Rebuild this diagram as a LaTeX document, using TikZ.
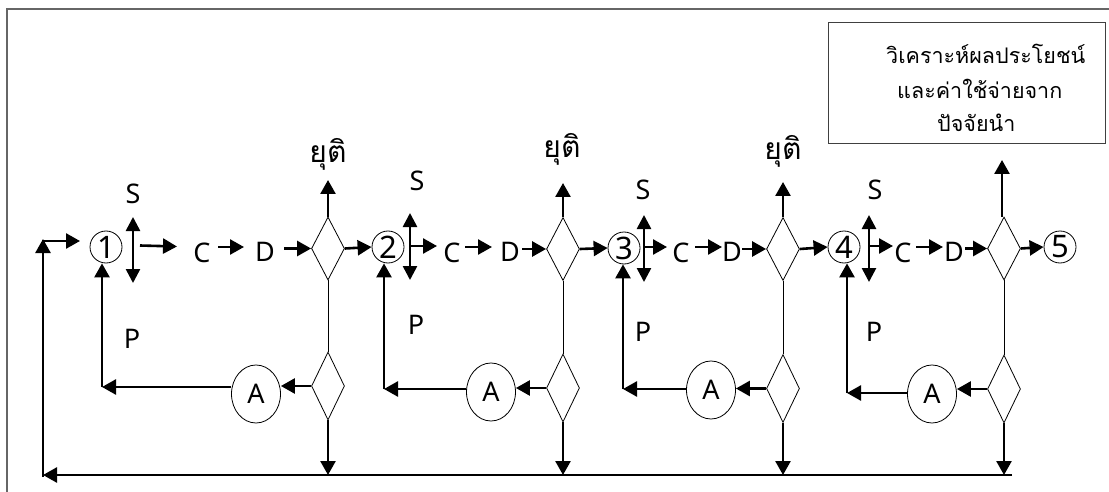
\documentclass[tikz,border=0pt]{standalone}
\usepackage{fontspec}
\setmainfont{Noto Sans}
\newfontfamily\thaifont[Script=Thai]{Loma}
\usetikzlibrary{shapes.geometric,arrows.meta}
\begin{document}
\begin{tikzpicture}[x=1pt,y=-1pt,
  conn/.style={line width=2.6pt,-{Triangle[length=14pt,width=15pt]}},
  dconn/.style={line width=2.6pt,{Triangle[length=14pt,width=14pt]}-{Triangle[length=14pt,width=14pt]}},
  fine/.style={line width=0.8pt},
  num/.style={circle,draw,line width=0.8pt,minimum size=32pt,inner sep=0pt,font=\fontsize{31}{31}\selectfont},
  dia/.style={diamond,draw,line width=0.8pt,minimum width=33pt,minimum height=63pt,inner sep=0pt},
  ldia/.style={diamond,draw,line width=0.8pt,minimum width=33pt,minimum height=68pt,inner sep=0pt},
  actn/.style={ellipse,draw,line width=0.8pt,minimum width=49pt,minimum height=58pt,inner sep=0pt,font=\fontsize{27}{27}\selectfont},
  lbl/.style={font=\fontsize{27}{27}\selectfont,inner sep=0pt},
  thai/.style={font=\thaifont\fontsize{30}{30}\selectfont,inner sep=0pt,anchor=base},
  boxt/.style={font=\thaifont\fontsize{21.5}{21.5}\selectfont,inner sep=0pt,anchor=base west},
]
\useasboundingbox (0,0) rectangle (1109,492);
\fill[white] (0,0) rectangle (1109,492);
% frame (cut at right and bottom)
\draw[line width=1.3pt,black!60] (7,492) -- (7,9) -- (1109,9);

% summary box
\node[draw,black!75,line width=1pt,minimum width=277pt,minimum height=121pt,inner sep=0pt] (box) at (966.5,83.5) {};
\node[boxt] (bx1) at (886,64) {วิเคราะห์ผลประโยชน์};
\node[boxt] (bx2) at (897,99) {และค่าใช้จ่ายจาก};
\node[boxt] (bx3) at (937,132) {ปัจจัยนำ};

% main row: stage circles
\node[num] (c1) at (106,247) {1};
\node[num] (c2) at (388,247) {2};
\node[num] (c3) at (624,248) {3};
\node[num] (c4) at (844,247) {4};
\node[num] (c5) at (1060,247) {5};

% decision diamonds (upper)
\node[dia] (d1) at (328,248.5) {};
\node[dia] (d2) at (563,249) {};
\node[dia] (d3) at (783,249) {};
\node[dia] (d4) at (1004,248.5) {};

% lower diamonds
\node[ldia] (l1) at (328,386) {};
\node[ldia] (l2) at (563,388) {};
\node[ldia] (l3) at (783,388.5) {};
\node[ldia] (l4) at (1004,389) {};

% A ellipses
\node[actn] (a1) at (256,394) {A};
\node[actn] (a2) at (491,392) {A};
\node[actn] (a3) at (711,390) {A};
\node[actn] (a4) at (932,394) {A};

% letters
\node[lbl] (s1) at (133,194) {S};
\node[lbl] (s2) at (417,181) {S};
\node[lbl] (s3) at (643,190) {S};
\node[lbl] (s4) at (875,190) {S};
\node[lbl] (C1) at (202,253) {C};
\node[lbl] (C2) at (452,253) {C};
\node[lbl] (C3) at (681,253) {C};
\node[lbl] (C4) at (903,253) {C};
\node[lbl] (D1) at (265,252) {D};
\node[lbl] (D2) at (510,252) {D};
\node[lbl] (D3) at (732,252) {D};
\node[lbl] (D4) at (954,252) {D};
\node[lbl] (p1) at (132,339) {P};
\node[lbl] (p2) at (416,325) {P};
\node[lbl] (p3) at (643,332) {P};
\node[lbl] (p4) at (874,332) {P};

% stop labels
\node[thai] (e1) at (328,163) {ยุติ};
\node[thai] (e2) at (562,158) {ยุติ};
\node[thai] (e3) at (783,160) {ยุติ};

% coordinates
\coordinate (t1) at (328,180);
\coordinate (t2) at (563,183);
\coordinate (t3) at (783,182);
\coordinate (t4) at (1002,160);
\coordinate (f4) at (1002,217);
\coordinate (k1) at (102,387);
\coordinate (k2) at (384,389);
\coordinate (k3) at (623,389);
\coordinate (k4) at (847,393);
\coordinate (bR) at (1012,475);
\coordinate (bL) at (43,475);
\coordinate (bL2) at (43,477);
\coordinate (tL) at (43,239);
\coordinate (hL) at (42,241);
\coordinate (h1) at (80,241);
% S double arrows
\coordinate (sa1) at (133,217); \coordinate (sb1) at (133,283);
\coordinate (sa2) at (410,213); \coordinate (sb2) at (410,280);
\coordinate (sa3) at (644,215); \coordinate (sb3) at (644,282);
\coordinate (sa4) at (869,215); \coordinate (sb4) at (869,282);
% horizontal arrows to C
\coordinate (q1) at (140,245.5); \coordinate (r1) at (177,246.5);
\coordinate (q2) at (410,246); \coordinate (r2) at (437,246);
\coordinate (q3) at (644,247); \coordinate (r3) at (667,247);
\coordinate (q4) at (869,246); \coordinate (r4) at (893,246);
% C -> D
\coordinate (u1) at (218,247); \coordinate (v1) at (244,247);
\coordinate (u2) at (465,247); \coordinate (v2) at (492,247);
\coordinate (u3) at (695,247); \coordinate (v3) at (722,247);
\coordinate (u4) at (916,247); \coordinate (v4) at (943,247);
% D -> diamond
\coordinate (w1) at (284,248.5);
\coordinate (w2) at (522,249);
\coordinate (w3) at (742,249);
\coordinate (w4) at (965,248.5);

% left return loop
\draw[conn] (bR) -- (bL);
\draw[conn] (bL2) -- (tL);
\draw[conn] (hL) -- (h1);

% main row connectors
\foreach \i in {1,2,3,4}{
  \draw[dconn] (sa\i) -- (sb\i);
  \draw[conn] (q\i) -- (r\i);
  \draw[conn] (u\i) -- (v\i);
  \draw[conn] (w\i) -- (d\i.west);
  \draw[fine] (d\i.south) -- (l\i.north);
  \draw[conn] (l\i.west) -- (l\i.west -| a\i.east);
  \draw[conn] (a\i.west |- k\i) -- (k\i);
  \draw[conn] (l\i.south) -- (l\i.south |- bR);
}
\draw[conn] (d1.east) -- (c2.west);
\draw[conn] (d2.east) -- (c3.west);
\draw[conn] (d3.east) -- (c4.west);
\draw[conn] (d4.east) -- (c5.west);
\draw[conn] (k1) -- (k1 |- c1.south);
\draw[conn] (k2) -- (k2 |- c2.south);
\draw[conn] (k3) -- (k3 |- c3.south);
\draw[conn] (k4) -- (k4 |- c4.south);
\draw[conn] (d1.north) -- (t1);
\draw[conn] (d2.north) -- (t2);
\draw[conn] (d3.north) -- (t3);
\draw[conn] (f4) -- (t4);
\end{tikzpicture}
\end{document}
